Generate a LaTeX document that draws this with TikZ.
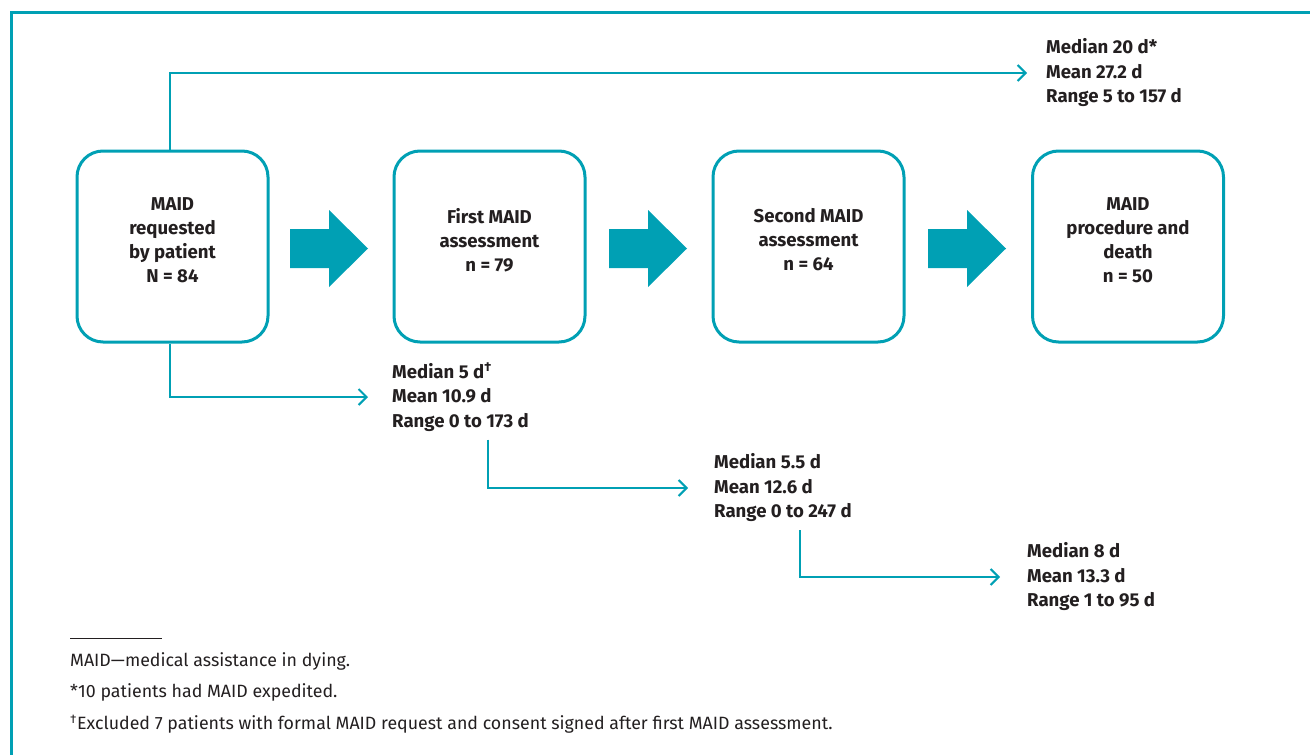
\documentclass[tikz,border=0pt]{standalone}
\usepackage{fontspec}
\setmainfont{Fira Sans}
\usetikzlibrary{arrows.meta,calc}
\definecolor{teal}{RGB}{0,160,180}
\definecolor{ink}{RGB}{35,31,32}
\newcommand{\bigdag}{\raisebox{0.38em}{\fontsize{13}{13}\selectfont\bfseries\dag}}
\begin{document}
\begin{tikzpicture}[x=1pt,y=-1pt,
  stagebox/.style={draw=teal,line width=3pt,rounded corners=26pt,minimum width=191pt,minimum height=191pt,inner sep=0pt},
  stagetext/.style={align=center,text=ink,font=\fontsize{18.6}{24}\selectfont\bfseries,inner sep=0pt},
  stat/.style={align=left,text=ink,font=\fontsize{18.6}{24.5}\selectfont\bfseries,anchor=west,inner ysep=8pt},
  conn/.style={draw=teal,line width=2pt,-{Straight Barb[length=8pt,width=16pt,line width=2pt]}},
  fat/.style={fill=teal},
  note/.style={anchor=west,text=ink,font=\fontsize{17.8}{20}\selectfont,inner sep=0pt}]
\useasboundingbox (0,0) rectangle (1310,755);
% frame
\draw[teal,line width=3pt] (11,760) -- (11,12) -- (1315,12);
% boxes
\node[stagebox] (b1) at (172.5,246.5) {};
\node[stagebox] (b2) at (489.5,246.5) {};
\node[stagebox] (b3) at (808.5,246.5) {};
\node[stagebox] (b4) at (1128,246.5) {};
\node[stagetext] (t1) at (172.5,240) {MAID\\requested\\by patient\\N = 84};
\node[stagetext] (t2) at (489.5,240) {First MAID\\assessment\\n = 79};
\node[stagetext] (t3) at (808.5,240) {Second MAID\\assessment\\n = 64};
\node[stagetext] (t4) at (1128,240) {MAID\\procedure and\\death\\n = 50};
% fat arrows
\foreach \x in {290,609,928}{
  \fill[fat] (\x,229) -- (\x+39,229) -- (\x+39,210) -- (\x+78,248.5) -- (\x+39,287) -- (\x+39,268) -- (\x,268) -- cycle;
}
% stats
\node[stat,inner xsep=19pt] (m1) at (1027,73) {Median 20 d*\\Mean 27.2 d\\Range 5 to 157 d};
\node[stat,inner xsep=24pt] (m2) at (368,397) {Median 5 d\bigdag\\Mean 10.9 d\\Range 0 to 173 d};
\node[stat,inner xsep=26pt] (m3) at (688,488) {Median 5.5 d\\Mean 12.6 d\\Range 0 to 247 d};
\node[stat,inner xsep=27pt] (m4) at (1000,577) {Median 8 d\\Mean 13.3 d\\Range 1 to 95 d};
% connectors
\draw[conn] ([xshift=-2.5pt]b1.north) |- (m1.west);
\draw[conn] ([xshift=-2.5pt]b1.south) |- (m2.west);
\draw[conn] ($(m2.south -| b2.center)+(-1.5,0)$) |- (m3.west);
\draw[conn] ($(m3.south -| b3.center)+(-8.5,0)$) |- (m4.west);
% footnotes
\coordinate (r1) at (70,638);
\coordinate (r2) at (162,638);
\draw[ink,line width=0.8pt] (r1) -- (r2);
\node[note] (n1) at (70,661) {MAID---medical assistance in dying.};
\node[note] (n2) at (70,692) {*10 patients had MAID expedited.};
\node[note] (n3) at (70,724) {\textsuperscript{\dag}Excluded 7 patients with formal MAID request and consent signed after first MAID assessment.};
\end{tikzpicture}
\end{document}
